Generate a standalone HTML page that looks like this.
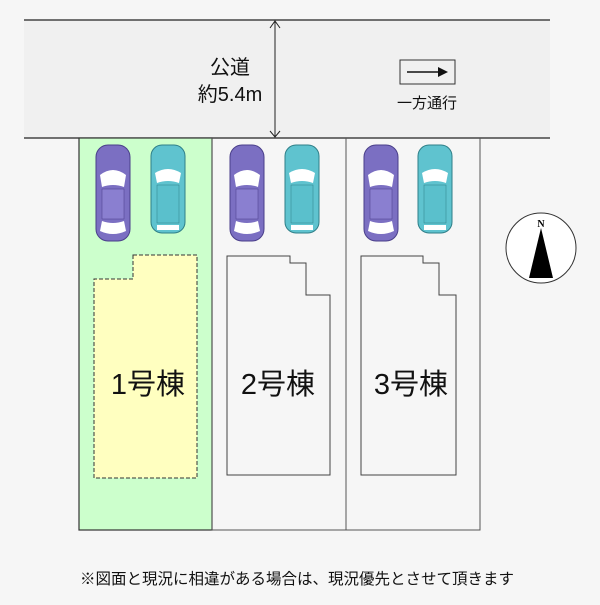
<!DOCTYPE html>
<html><head><meta charset="utf-8"><style>
body{margin:0;width:600px;height:600px;overflow:hidden;background:#f6f6f6;font-family:"Liberation Sans","Noto Sans CJK JP",sans-serif}
</style></head><body>
<svg width="600" height="600" xmlns="http://www.w3.org/2000/svg" font-family="Liberation Sans, Noto Sans CJK JP, sans-serif">
<defs>
<g id="sedan">
<rect x="0" y="0" width="34" height="96" rx="12" fill="#7b6fc2" stroke="#4a3f8a"/>
<path d="M4 30 Q17 20 30 30 L28 42 Q17 38 6 42Z" fill="#fff"/>
<rect x="6" y="44" width="22" height="30" fill="#8a7fd0" stroke="#4a3f8a" stroke-width="0.5"/>
<path d="M6 76 Q17 80 28 76 L30 86 Q17 92 4 86Z" fill="#fff"/>
</g>
<g id="wagon">
<rect x="0" y="0" width="34" height="88" rx="11" fill="#5fc3cf" stroke="#2f7f88"/>
<path d="M4 28 Q17 20 30 28 L28 38 Q17 34 6 38Z" fill="#fff"/>
<rect x="6" y="40" width="22" height="38" fill="#5ac0cc" stroke="#2f7f88" stroke-width="0.5"/>
<rect x="6" y="80" width="22" height="5" fill="#fff"/>
</g>
</defs>
<rect x="24" y="20" width="526" height="118" fill="#f0f0f0"/>
<line x1="24" y1="20" x2="550" y2="20" stroke="#222" stroke-width="1.2"/>
<line x1="24" y1="138" x2="550" y2="138" stroke="#222" stroke-width="1.2"/>
<line x1="275" y1="21" x2="275" y2="137" stroke="#222"/>
<path d="M270 28 L275 21 L280 28 M270 131 L275 137 L280 131" fill="none" stroke="#222"/>
<text x="230" y="74" font-size="20" text-anchor="middle" fill="#111">公道</text>
<text x="230" y="101" font-size="20" text-anchor="middle" fill="#111">約5.4m</text>
<rect x="400" y="60" width="55" height="24" fill="none" stroke="#333"/>
<line x1="407" y1="72" x2="440" y2="72" stroke="#111" stroke-width="1.5"/>
<path d="M438 67 L448 72 L438 77Z" fill="#111"/>
<text x="427" y="108" font-size="15" text-anchor="middle" fill="#111">一方通行</text>
<rect x="79" y="138" width="133" height="392" fill="#ccffcc" stroke="#333" stroke-width="1.2"/>
<path d="M212 138 V530 H480 V138 M346 138 V530" fill="none" stroke="#555"/>
<path d="M133 255 H197 V478 H94 V279 H133Z" fill="#ffffc0" stroke="#333" stroke-dasharray="4 2"/>
<path d="M227 256 H290 V263 H306 V295 H330 V475 H227Z" fill="none" stroke="#444"/>
<path d="M361 256 H423 V263 H439 V295 H456 V475 H361Z" fill="none" stroke="#444"/>
<use href="#sedan" x="96" y="145"/><use href="#wagon" x="151" y="145"/>
<use href="#sedan" x="230" y="145"/><use href="#wagon" x="285" y="145"/>
<use href="#sedan" x="364" y="145"/><use href="#wagon" x="418" y="145"/>
<text x="148" y="394" font-size="29" text-anchor="middle" fill="#111">1号棟</text>
<text x="278" y="394" font-size="29" text-anchor="middle" fill="#111">2号棟</text>
<text x="411" y="394" font-size="29" text-anchor="middle" fill="#111">3号棟</text>
<circle cx="541" cy="248" r="35" fill="#fff" stroke="#333"/>
<text x="541" y="227" font-size="10" font-weight="bold" text-anchor="middle" font-family="Liberation Serif, serif">N</text>
<path d="M541 228 L529 278 L553 278Z" fill="#000"/>
<text x="297" y="584" font-size="15.5" text-anchor="middle" fill="#111">※図面と現況に相違がある場合は、現況優先とさせて頂きます</text>
</svg>
</body></html>
